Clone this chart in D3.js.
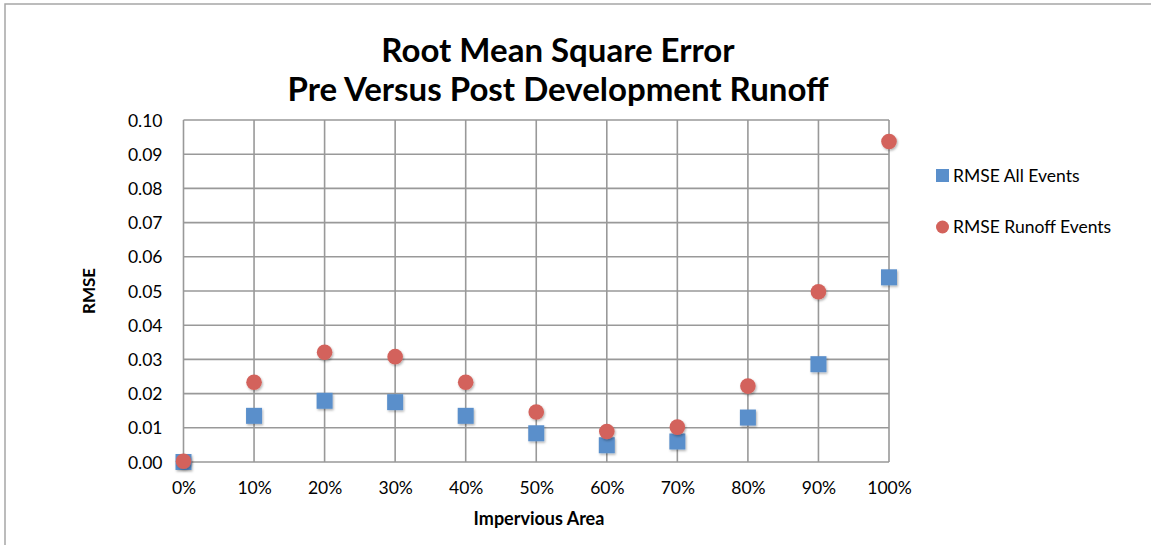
<!DOCTYPE html>
<html>
<head>
<meta charset="utf-8">
<script src="https://cdn.jsdelivr.net/npm/d3@7"></script>
<style>
  body { margin: 0; background: #fff; }
  text { font-family: Lato, "Open Sans", sans-serif; fill: #000; }
</style>
</head>
<body>
<div id="chart"></div>
<script>
  var width = 1151, height = 545;

  // impervious area (%)
  var areas = [0, 10, 20, 30, 40, 50, 60, 70, 80, 90, 100];
  var allEvents    = [0.0000, 0.0135, 0.0179, 0.0175, 0.0135, 0.0084, 0.0049, 0.0060, 0.0130, 0.0286, 0.0540];
  var runoffEvents = [0.0002, 0.0233, 0.0321, 0.0308, 0.0233, 0.0146, 0.0089, 0.0102, 0.0222, 0.0498, 0.0937];
  var yTicks = [0, 0.01, 0.02, 0.03, 0.04, 0.05, 0.06, 0.07, 0.08, 0.09, 0.10];
  var seriesNames = ["RMSE All Events", "RMSE Runoff Events"];
  var colors = ["#5a8fcb", "#d3625b"];

  var margin = {left: 183.5, top: 120, right: 889, bottom: 462};

  var svg = d3.select("#chart").append("svg")
    .attr("width", width)
    .attr("height", height);

  var defs = svg.append("defs");
  var f = defs.append("filter").attr("id", "shadow")
    .attr("x", "-50%").attr("y", "-50%").attr("width", "200%").attr("height", "200%");
  f.append("feDropShadow").attr("dx", 1).attr("dy", 1.5).attr("stdDeviation", 1.2)
    .attr("flood-color", "#000").attr("flood-opacity", 0.3);

  // outer frame
  svg.append("rect")
    .attr("x", 5).attr("y", 4)
    .attr("width", width + 10).attr("height", height + 10)
    .attr("fill", "none").attr("stroke", "#a6a6a6").attr("stroke-width", 1.5);

  var x = d3.scaleLinear().domain([0, 100]).range([margin.left, margin.right]);
  var y = d3.scaleLinear().domain([0, 0.10]).range([margin.bottom, margin.top]);

  var grid = svg.append("g").attr("stroke", "#999").attr("stroke-width", 1.6);
  grid.selectAll(".v").data(areas).enter().append("line")
    .attr("x1", function(d){ return x(d); }).attr("x2", function(d){ return x(d); })
    .attr("y1", margin.top).attr("y2", margin.bottom);
  grid.selectAll(".h").data(yTicks).enter().append("line")
    .attr("x1", margin.left).attr("x2", margin.right)
    .attr("y1", function(d){ return y(d); }).attr("y2", function(d){ return y(d); });

  // axes (labels only, lines come from the grid)
  var yAxis = svg.append("g")
    .attr("transform", "translate(" + (margin.left - 18) + ",0)")
    .call(d3.axisLeft(y).tickValues(yTicks).tickSize(0).tickFormat(d3.format(".2f")));
  var xAxis = svg.append("g")
    .attr("transform", "translate(0," + (margin.bottom + 17) + ")")
    .call(d3.axisBottom(x).tickValues(areas).tickSize(0).tickFormat(function(d){ return d + "%"; }));
  [yAxis, xAxis].forEach(function(a){
    a.select(".domain").remove();
    a.selectAll("text").style("font-size", "17.5px").style("font-family", "Lato, 'Open Sans', sans-serif").attr("fill", "#000");
  });
  yAxis.selectAll("text").attr("dy", "0.35em");

  // points
  var sq = 16;
  svg.append("g").selectAll("rect").data(allEvents).enter().append("rect")
    .attr("x", function(d, i){ return x(areas[i]) - sq / 2; })
    .attr("y", function(d){ return y(d) - sq / 2; })
    .attr("width", sq).attr("height", sq)
    .attr("fill", colors[0]).attr("filter", "url(#shadow)");

  svg.append("g").selectAll("circle").data(runoffEvents).enter().append("circle")
    .attr("cx", function(d, i){ return x(areas[i]); })
    .attr("cy", function(d){ return y(d); })
    .attr("r", 7.8)
    .attr("fill", colors[1]).attr("filter", "url(#shadow)");

  // title
  var title = svg.append("text")
    .attr("text-anchor", "middle")
    .style("font-size", "33px").style("font-weight", "bold");
  title.append("tspan").attr("x", 558).attr("y", 62).text("Root Mean Square Error");
  title.append("tspan").attr("x", 558).attr("y", 101).text("Pre Versus Post Development Runoff");

  // axis titles
  svg.append("text")
    .attr("x", 539).attr("y", 525)
    .attr("text-anchor", "middle")
    .style("font-size", "18px").style("font-weight", "bold")
    .text("Impervious Area");
  svg.append("text")
    .attr("transform", "translate(95,291) rotate(-90)")
    .attr("text-anchor", "middle")
    .style("font-size", "17px").style("font-weight", "bold")
    .text("RMSE");

  // legend
  var legend = svg.append("g");
  legend.append("rect").attr("x", 936).attr("y", 169).attr("width", 13).attr("height", 13).attr("fill", colors[0]);
  legend.append("circle").attr("cx", 942.5).attr("cy", 227).attr("r", 6.5).attr("fill", colors[1]);
  legend.selectAll("text").data(seriesNames).enter().append("text")
    .attr("x", 953)
    .attr("y", function(d, i){ return 176 + i * 51; })
    .attr("dy", "0.35em")
    .style("font-size", "17.5px")
    .text(function(d){ return d; });
</script>
</body>
</html>
